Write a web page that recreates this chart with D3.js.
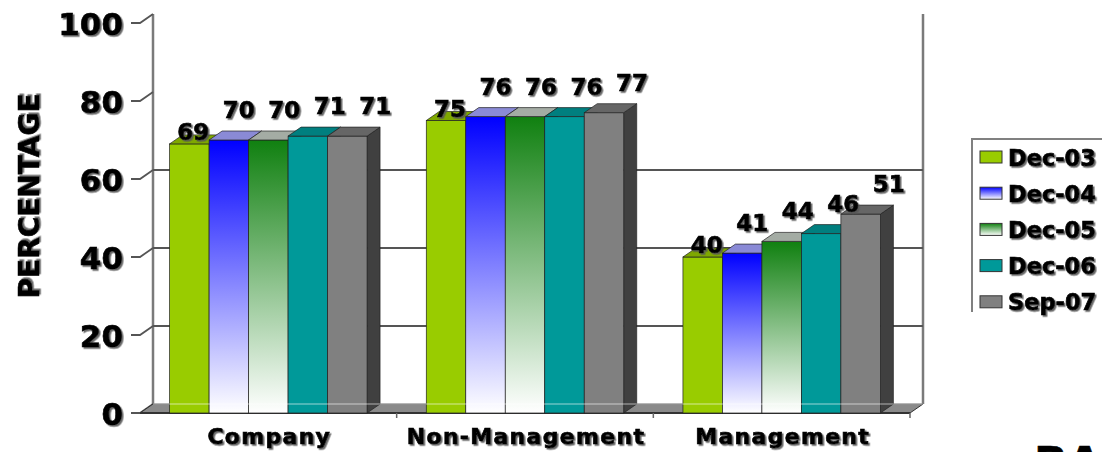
<!DOCTYPE html>
<html>
<head>
<meta charset="utf-8">
<script src="https://cdn.jsdelivr.net/npm/d3@7"></script>
<style>
  html, body { margin: 0; padding: 0; background: #fff; }
  svg { display: block; }
  text { font-family: "DejaVu Sans", "Liberation Sans", sans-serif; font-weight: bold; fill: #000; stroke: #000; stroke-width: 0.7px; }
</style>
</head>
<body>
<svg id="chart" width="1102" height="452"></svg>
<script>
// Survey results by employee group
const categories = ["Company", "Non-Management", "Management"];
const seriesNames = ["Dec-03", "Dec-04", "Dec-05", "Dec-06", "Sep-07"];
const dec03 = [69, 75, 40];
const dec04 = [70, 76, 41];
const dec05 = [70, 76, 44];
const dec06 = [71, 76, 46];
const sep07 = [71, 77, 51];
const yTicks = [0, 20, 40, 60, 80, 100];
const gridValues = [20, 40, 60];

const seriesValues = [dec03, dec04, dec05, dec06, sep07];

// face colours per series: front fill (solid or gradient), top face, side face
const faceStyle = [
  { front: "#99cc00", top: "#7fa800", side: "#5f7f00" },
  { front: "url(#gBlue)", top: "#8a8ad6", side: "url(#gBlueSide)" },
  { front: "url(#gGreen)", top: "#a4aca4", side: "url(#gGreenSide)" },
  { front: "#009999", top: "#007f7f", side: "#005c5c" },
  { front: "#808080", top: "#666666", side: "#404040" }
];

const svg = d3.select("#chart");
const defs = svg.append("defs");

function vGrad(id, c0, c1) {
  const g = defs.append("linearGradient").attr("id", id)
    .attr("x1", 0).attr("y1", 0).attr("x2", 0).attr("y2", 1);
  g.append("stop").attr("offset", 0).attr("stop-color", c0);
  g.append("stop").attr("offset", 1).attr("stop-color", c1);
}
vGrad("gBlue", "#0000ff", "#ffffff");
vGrad("gBlueSide", "#00009a", "#c8c8c8");
vGrad("gGreen", "#108010", "#ffffff");
vGrad("gGreenSide", "#0a500a", "#c8c8c8");

const shadow = defs.append("filter").attr("id", "txtShadow")
  .attr("x", "-10%").attr("y", "-10%").attr("width", "130%").attr("height", "140%");
shadow.append("feDropShadow").attr("dx", 1.6).attr("dy", 1.6)
  .attr("stdDeviation", 0.7).attr("flood-color", "#555").attr("flood-opacity", 0.9);

// 3D projection: depth offset of the back plane
const dx = 13, dy = -9;

const x0 = d3.scaleBand().domain(categories).range([140, 910]).paddingInner(0).paddingOuter(0);
const x1 = d3.scaleBand().domain(seriesNames).range([0, x0.bandwidth()]).paddingInner(0).paddingOuter(0.75);
const y = d3.scaleLinear().domain([0, 100]).range([413, 23]);

const left = x0.range()[0], right = x0.range()[1];

// back wall edges
svg.append("line").attr("x1", left + dx).attr("x2", left + dx)
  .attr("y1", y(100) + dy).attr("y2", y(0) + dy)
  .attr("stroke", "#7a7a7a").attr("stroke-width", 2.5);
svg.append("line").attr("x1", right + dx).attr("x2", right + dx)
  .attr("y1", y(100) + dy).attr("y2", y(0) + dy)
  .attr("stroke", "#7a7a7a").attr("stroke-width", 2.5);

// gridlines on the back wall
svg.append("g").selectAll("line").data(gridValues).join("line")
  .attr("x1", left + dx).attr("x2", right + dx)
  .attr("y1", d => y(d) + dy).attr("y2", d => y(d) + dy)
  .attr("stroke", "#555").attr("stroke-width", 2);

// value axis ticks: short front tick bending back to the wall
const yAxis = svg.append("g");
yAxis.selectAll("path").data(yTicks).join("path")
  .attr("d", d => `M${left - 9},${y(d)} L${left},${y(d)} L${left + dx},${y(d) + dy}`)
  .attr("fill", "none").attr("stroke", "#555").attr("stroke-width", 1.8);
yAxis.selectAll("text").data(yTicks).join("text")
  .attr("x", left - 17).attr("y", d => y(d) + 1)
  .attr("text-anchor", "end").attr("dominant-baseline", "central")
  .attr("font-size", 31).attr("filter", "url(#txtShadow)")
  .text(d => d);

// floor
svg.append("path")
  .attr("d", `M${left},${y(0)} L${right},${y(0)} L${right + dx},${y(0) + dy} L${left + dx},${y(0) + dy} Z`)
  .attr("fill", "#8a8a8a").attr("stroke", "#333").attr("stroke-width", 1);
svg.append("line").attr("x1", left).attr("x2", right)
  .attr("y1", y(0)).attr("y2", y(0)).attr("stroke", "#333").attr("stroke-width", 2);

// category boundary ticks below the floor
svg.append("g").selectAll("line").data(categories).join("line")
  .attr("x1", d => x0(d) + x0.bandwidth()).attr("x2", d => x0(d) + x0.bandwidth())
  .attr("y1", y(0)).attr("y2", y(0) + 5)
  .attr("stroke", "#666").attr("stroke-width", 1.5);

// bars
const bars = [];
categories.forEach((c, ci) => {
  seriesNames.forEach((s, si) => {
    bars.push({ c, s, si, v: seriesValues[si][ci] });
  });
});

const barG = svg.append("g");
bars.forEach(b => {
  const x = x0(b.c) + x1(b.s), w = x1.bandwidth();
  const yt = y(b.v), yb = y(0);
  const st = faceStyle[b.si];
  const g = barG.append("g");
  g.append("path")
    .attr("d", `M${x + w},${yt} L${x + w + dx},${yt + dy} L${x + w + dx},${yb + dy} L${x + w},${yb} Z`)
    .attr("fill", st.side).attr("stroke", "#222").attr("stroke-width", 0.7);
  g.append("rect").attr("x", x).attr("y", yt).attr("width", w).attr("height", yb - yt)
    .attr("fill", st.front).attr("stroke", "#222").attr("stroke-width", 0.7);
  g.append("path")
    .attr("d", `M${x},${yt} L${x + dx},${yt + dy} L${x + w + dx},${yt + dy} L${x + w},${yt} Z`)
    .attr("fill", st.top).attr("stroke", "#222").attr("stroke-width", 0.7);
});

// faint back edge of the floor showing through
svg.append("line").attr("x1", left + dx).attr("x2", right + dx)
  .attr("y1", y(0) + dy).attr("y2", y(0) + dy)
  .attr("stroke", "#fff").attr("stroke-opacity", 0.6).attr("stroke-width", 1);

// value labels
svg.append("g").selectAll("text").data(bars).join("text")
  .attr("x", d => x0(d.c) + x1(d.s) + x1.bandwidth() / 2 + 4 + 6 * d.si)
  .attr("y", d => y(d.v) - (d.si === 0 ? 4 : 22))
  .attr("text-anchor", "middle").attr("font-size", 23)
  .attr("filter", "url(#txtShadow)")
  .text(d => d.v);

// category labels
svg.append("g").selectAll("text").data(categories).join("text")
  .attr("x", d => x0(d) + x0.bandwidth() / 2 + 1)
  .attr("y", 444)
  .attr("text-anchor", "middle").attr("font-size", 22)
  .attr("letter-spacing", 1.3)
  .attr("filter", "url(#txtShadow)")
  .text(d => d);

// value axis title
svg.append("text")
  .attr("transform", "translate(39,196) rotate(-90)")
  .attr("text-anchor", "middle").attr("font-size", 28)
  .attr("filter", "url(#txtShadow)")
  .text("PERCENTAGE");

// legend
const legend = svg.append("g");
legend.append("path")
  .attr("d", "M972,312 L972,139 L1110,139")
  .attr("fill", "none").attr("stroke", "#808080").attr("stroke-width", 2);
const legendFill = ["#99cc00", "url(#gBlue)", "url(#gGreen)", "#009999", "#808080"];
const rows = legend.selectAll("g").data(seriesNames).join("g")
  .attr("transform", (d, i) => `translate(980,${157 + i * 36.2})`);
rows.append("rect").attr("x", 0).attr("y", -6).attr("width", 22).attr("height", 12)
  .attr("fill", (d, i) => legendFill[i]).attr("stroke", "#333").attr("stroke-width", 1);
rows.append("text").attr("x", 28).attr("y", 8.5)
  .attr("font-size", 22.5).attr("filter", "url(#txtShadow)")
  .text(d => d);

// caption at bottom right, running off the lower edge
svg.append("text").attr("x", 1034).attr("y", 479)
  .attr("font-size", 44).text("BA");
</script>
</body>
</html>
